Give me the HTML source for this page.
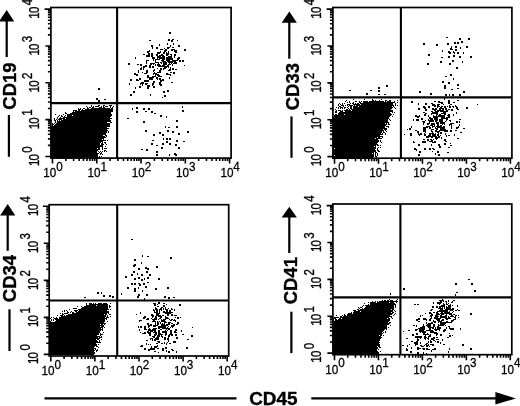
<!DOCTYPE html>
<html><head><meta charset="utf-8"><style>
html,body{margin:0;padding:0;background:#fff;width:520px;height:406px;overflow:hidden;}
svg{display:block;filter:grayscale(1) blur(0.35px);}
text{font-family:"Liberation Sans", sans-serif;fill:#000;stroke:#000;stroke-width:0.28px;}text[font-weight=bold]{stroke-width:0.35px;}
</style></head><body><svg width="520" height="406" viewBox="0 0 520 406" font-family='"Liberation Sans", sans-serif'><rect x="50.90" y="7.50" width="180.20" height="150.60" fill="none" stroke="#000" stroke-width="1.7"/><line x1="117.10" y1="7.50" x2="117.10" y2="158.10" stroke="#000" stroke-width="2.1"/><line x1="50.90" y1="103.10" x2="231.10" y2="103.10" stroke="#000" stroke-width="2.1"/><path d="M52.50 158.10V163.60M50.90 156.50H45.40M65.83 158.10V161.10M50.90 145.41H47.90M73.62 158.10V161.10M50.90 138.92H47.90M79.16 158.10V161.10M50.90 134.31H47.90M83.45 158.10V161.10M50.90 130.74H47.90M86.95 158.10V161.10M50.90 127.83H47.90M89.92 158.10V161.10M50.90 125.36H47.90M92.48 158.10V161.10M50.90 123.22H47.90M94.75 158.10V161.10M50.90 121.34H47.90M96.78 158.10V163.60M50.90 119.65H45.40M110.10 158.10V161.10M50.90 108.56H47.90M117.90 158.10V161.10M50.90 102.07H47.90M123.43 158.10V161.10M50.90 97.46H47.90M127.72 158.10V161.10M50.90 93.89H47.90M131.23 158.10V161.10M50.90 90.98H47.90M134.19 158.10V161.10M50.90 88.51H47.90M136.76 158.10V161.10M50.90 86.37H47.90M139.02 158.10V161.10M50.90 84.49H47.90M141.05 158.10V163.60M50.90 82.80H45.40M154.38 158.10V161.10M50.90 71.71H47.90M162.17 158.10V161.10M50.90 65.22H47.90M167.71 158.10V161.10M50.90 60.61H47.90M172.00 158.10V161.10M50.90 57.04H47.90M175.50 158.10V161.10M50.90 54.13H47.90M178.47 158.10V161.10M50.90 51.66H47.90M181.03 158.10V161.10M50.90 49.52H47.90M183.30 158.10V161.10M50.90 47.64H47.90M185.32 158.10V163.60M50.90 45.95H45.40M198.65 158.10V161.10M50.90 34.86H47.90M206.45 158.10V161.10M50.90 28.37H47.90M211.98 158.10V161.10M50.90 23.76H47.90M216.27 158.10V161.10M50.90 20.19H47.90M219.78 158.10V161.10M50.90 17.28H47.90M222.74 158.10V161.10M50.90 14.81H47.90M225.31 158.10V161.10M50.90 12.67H47.90M227.57 158.10V161.10M50.90 10.79H47.90M229.60 158.10V163.60M50.90 9.10H44.60" stroke="#000" stroke-width="1.6" fill="none"/><g transform="translate(52.50,177.00) scale(0.96,1)"><text x="-9.6" y="0" font-size="12.2">10</text><text x="3.9" y="-6.4" font-size="12.2">0</text></g><g transform="translate(39.30,156.50) rotate(-90) scale(1,1.2)"><text x="-9.6" y="0" font-size="11.5" letter-spacing="-0.8">10</text><text x="3.8" y="-6.3" font-size="11.5">0</text></g><g transform="translate(96.78,177.00) scale(0.96,1)"><text x="-9.6" y="0" font-size="12.2">10</text><text x="3.9" y="-6.4" font-size="12.2">1</text></g><g transform="translate(39.30,119.65) rotate(-90) scale(1,1.2)"><text x="-9.6" y="0" font-size="11.5" letter-spacing="-0.8">10</text><text x="3.8" y="-6.3" font-size="11.5">1</text></g><g transform="translate(141.05,177.00) scale(0.96,1)"><text x="-9.6" y="0" font-size="12.2">10</text><text x="3.9" y="-6.4" font-size="12.2">2</text></g><g transform="translate(39.30,82.80) rotate(-90) scale(1,1.2)"><text x="-9.6" y="0" font-size="11.5" letter-spacing="-0.8">10</text><text x="3.8" y="-6.3" font-size="11.5">2</text></g><g transform="translate(185.32,177.00) scale(0.96,1)"><text x="-9.6" y="0" font-size="12.2">10</text><text x="3.9" y="-6.4" font-size="12.2">3</text></g><g transform="translate(39.30,45.95) rotate(-90) scale(1,1.2)"><text x="-9.6" y="0" font-size="11.5" letter-spacing="-0.8">10</text><text x="3.8" y="-6.3" font-size="11.5">3</text></g><g transform="translate(229.60,177.00) scale(0.96,1)"><text x="-9.6" y="0" font-size="12.2">10</text><text x="3.9" y="-6.4" font-size="12.2">4</text></g><g transform="translate(39.30,9.10) rotate(-90) scale(1,1.2)"><text x="-9.6" y="0" font-size="11.5" letter-spacing="-0.8">10</text><text x="3.8" y="-6.3" font-size="11.5">4</text></g><path d="M6.70 10.00L14.30 21.40L-0.90 21.40Z" fill="#000"/><line x1="6.70" y1="20.40" x2="6.70" y2="57.00" stroke="#000" stroke-width="2.2"/><line x1="8.90" y1="115.00" x2="8.90" y2="156.80" stroke="#000" stroke-width="2.2"/><text transform="translate(16.00,86.00) rotate(-90)" text-anchor="middle" font-size="18.5" font-weight="bold">CD19</text><rect x="332.90" y="7.50" width="179.00" height="150.70" fill="none" stroke="#000" stroke-width="1.7"/><line x1="400.90" y1="7.50" x2="400.90" y2="158.20" stroke="#000" stroke-width="2.1"/><line x1="332.90" y1="97.40" x2="511.90" y2="97.40" stroke="#000" stroke-width="2.1"/><path d="M334.50 158.20V163.70M332.90 156.60H327.40M347.74 158.20V161.20M332.90 145.50H329.90M355.48 158.20V161.20M332.90 139.01H329.90M360.98 158.20V161.20M332.90 134.40H329.90M365.24 158.20V161.20M332.90 130.83H329.90M368.72 158.20V161.20M332.90 127.91H329.90M371.66 158.20V161.20M332.90 125.44H329.90M374.21 158.20V161.20M332.90 123.30H329.90M376.46 158.20V161.20M332.90 121.41H329.90M378.48 158.20V163.70M332.90 119.72H327.40M391.71 158.20V161.20M332.90 108.62H329.90M399.46 158.20V161.20M332.90 102.13H329.90M404.95 158.20V161.20M332.90 97.52H329.90M409.21 158.20V161.20M332.90 93.95H329.90M412.69 158.20V161.20M332.90 91.03H329.90M415.64 158.20V161.20M332.90 88.56H329.90M418.19 158.20V161.20M332.90 86.42H329.90M420.44 158.20V161.20M332.90 84.54H329.90M422.45 158.20V163.70M332.90 82.85H327.40M435.69 158.20V161.20M332.90 71.75H329.90M443.43 158.20V161.20M332.90 65.26H329.90M448.93 158.20V161.20M332.90 60.65H329.90M453.19 158.20V161.20M332.90 57.08H329.90M456.67 158.20V161.20M332.90 54.16H329.90M459.61 158.20V161.20M332.90 51.69H329.90M462.16 158.20V161.20M332.90 49.55H329.90M464.41 158.20V161.20M332.90 47.66H329.90M466.42 158.20V163.70M332.90 45.97H327.40M479.66 158.20V161.20M332.90 34.87H329.90M487.41 158.20V161.20M332.90 28.38H329.90M492.90 158.20V161.20M332.90 23.77H329.90M497.16 158.20V161.20M332.90 20.20H329.90M500.64 158.20V161.20M332.90 17.28H329.90M503.59 158.20V161.20M332.90 14.81H329.90M506.14 158.20V161.20M332.90 12.67H329.90M508.39 158.20V161.20M332.90 10.79H329.90M510.40 158.20V163.70M332.90 9.10H326.60" stroke="#000" stroke-width="1.6" fill="none"/><g transform="translate(334.50,177.10) scale(0.96,1)"><text x="-9.6" y="0" font-size="12.2">10</text><text x="3.9" y="-6.4" font-size="12.2">0</text></g><g transform="translate(321.30,156.60) rotate(-90) scale(1,1.2)"><text x="-9.6" y="0" font-size="11.5" letter-spacing="-0.8">10</text><text x="3.8" y="-6.3" font-size="11.5">0</text></g><g transform="translate(378.48,177.10) scale(0.96,1)"><text x="-9.6" y="0" font-size="12.2">10</text><text x="3.9" y="-6.4" font-size="12.2">1</text></g><g transform="translate(321.30,119.72) rotate(-90) scale(1,1.2)"><text x="-9.6" y="0" font-size="11.5" letter-spacing="-0.8">10</text><text x="3.8" y="-6.3" font-size="11.5">1</text></g><g transform="translate(422.45,177.10) scale(0.96,1)"><text x="-9.6" y="0" font-size="12.2">10</text><text x="3.9" y="-6.4" font-size="12.2">2</text></g><g transform="translate(321.30,82.85) rotate(-90) scale(1,1.2)"><text x="-9.6" y="0" font-size="11.5" letter-spacing="-0.8">10</text><text x="3.8" y="-6.3" font-size="11.5">2</text></g><g transform="translate(466.42,177.10) scale(0.96,1)"><text x="-9.6" y="0" font-size="12.2">10</text><text x="3.9" y="-6.4" font-size="12.2">3</text></g><g transform="translate(321.30,45.97) rotate(-90) scale(1,1.2)"><text x="-9.6" y="0" font-size="11.5" letter-spacing="-0.8">10</text><text x="3.8" y="-6.3" font-size="11.5">3</text></g><g transform="translate(510.40,177.10) scale(0.96,1)"><text x="-9.6" y="0" font-size="12.2">10</text><text x="3.9" y="-6.4" font-size="12.2">4</text></g><g transform="translate(321.30,9.10) rotate(-90) scale(1,1.2)"><text x="-9.6" y="0" font-size="11.5" letter-spacing="-0.8">10</text><text x="3.8" y="-6.3" font-size="11.5">4</text></g><path d="M289.30 11.50L296.90 22.80L281.70 22.80Z" fill="#000"/><line x1="289.30" y1="21.80" x2="289.30" y2="58.70" stroke="#000" stroke-width="2.2"/><line x1="291.50" y1="116.40" x2="291.50" y2="157.80" stroke="#000" stroke-width="2.2"/><text transform="translate(298.50,86.60) rotate(-90)" text-anchor="middle" font-size="18.5" font-weight="bold">CD33</text><rect x="49.20" y="204.70" width="179.50" height="151.30" fill="none" stroke="#000" stroke-width="1.7"/><line x1="117.20" y1="204.70" x2="117.20" y2="356.00" stroke="#000" stroke-width="2.1"/><line x1="49.20" y1="300.50" x2="228.70" y2="300.50" stroke="#000" stroke-width="2.1"/><path d="M50.80 356.00V361.50M49.20 354.40H43.70M64.08 356.00V359.00M49.20 343.25H46.20M71.84 356.00V359.00M49.20 336.73H46.20M77.35 356.00V359.00M49.20 332.11H46.20M81.62 356.00V359.00M49.20 328.52H46.20M85.12 356.00V359.00M49.20 325.59H46.20M88.07 356.00V359.00M49.20 323.11H46.20M90.63 356.00V359.00M49.20 320.96H46.20M92.88 356.00V359.00M49.20 319.07H46.20M94.90 356.00V361.50M49.20 317.38H43.70M108.18 356.00V359.00M49.20 306.23H46.20M115.94 356.00V359.00M49.20 299.71H46.20M121.45 356.00V359.00M49.20 295.08H46.20M125.72 356.00V359.00M49.20 291.50H46.20M129.22 356.00V359.00M49.20 288.56H46.20M132.17 356.00V359.00M49.20 286.09H46.20M134.73 356.00V359.00M49.20 283.94H46.20M136.98 356.00V359.00M49.20 282.04H46.20M139.00 356.00V361.50M49.20 280.35H43.70M152.28 356.00V359.00M49.20 269.20H46.20M160.04 356.00V359.00M49.20 262.68H46.20M165.55 356.00V359.00M49.20 258.06H46.20M169.82 356.00V359.00M49.20 254.47H46.20M173.32 356.00V359.00M49.20 251.54H46.20M176.27 356.00V359.00M49.20 249.06H46.20M178.83 356.00V359.00M49.20 246.91H46.20M181.08 356.00V359.00M49.20 245.02H46.20M183.10 356.00V361.50M49.20 243.32H43.70M196.38 356.00V359.00M49.20 232.18H46.20M204.14 356.00V359.00M49.20 225.66H46.20M209.65 356.00V359.00M49.20 221.03H46.20M213.92 356.00V359.00M49.20 217.45H46.20M217.42 356.00V359.00M49.20 214.51H46.20M220.37 356.00V359.00M49.20 212.04H46.20M222.93 356.00V359.00M49.20 209.89H46.20M225.18 356.00V359.00M49.20 207.99H46.20M227.20 356.00V361.50M49.20 206.30H42.90" stroke="#000" stroke-width="1.6" fill="none"/><g transform="translate(50.80,374.90) scale(0.96,1)"><text x="-9.6" y="0" font-size="12.2">10</text><text x="3.9" y="-6.4" font-size="12.2">0</text></g><g transform="translate(37.60,354.40) rotate(-90) scale(1,1.2)"><text x="-9.6" y="0" font-size="11.5" letter-spacing="-0.8">10</text><text x="3.8" y="-6.3" font-size="11.5">0</text></g><g transform="translate(94.90,374.90) scale(0.96,1)"><text x="-9.6" y="0" font-size="12.2">10</text><text x="3.9" y="-6.4" font-size="12.2">1</text></g><g transform="translate(37.60,317.38) rotate(-90) scale(1,1.2)"><text x="-9.6" y="0" font-size="11.5" letter-spacing="-0.8">10</text><text x="3.8" y="-6.3" font-size="11.5">1</text></g><g transform="translate(139.00,374.90) scale(0.96,1)"><text x="-9.6" y="0" font-size="12.2">10</text><text x="3.9" y="-6.4" font-size="12.2">2</text></g><g transform="translate(37.60,280.35) rotate(-90) scale(1,1.2)"><text x="-9.6" y="0" font-size="11.5" letter-spacing="-0.8">10</text><text x="3.8" y="-6.3" font-size="11.5">2</text></g><g transform="translate(183.10,374.90) scale(0.96,1)"><text x="-9.6" y="0" font-size="12.2">10</text><text x="3.9" y="-6.4" font-size="12.2">3</text></g><g transform="translate(37.60,243.32) rotate(-90) scale(1,1.2)"><text x="-9.6" y="0" font-size="11.5" letter-spacing="-0.8">10</text><text x="3.8" y="-6.3" font-size="11.5">3</text></g><g transform="translate(227.20,374.90) scale(0.96,1)"><text x="-9.6" y="0" font-size="12.2">10</text><text x="3.9" y="-6.4" font-size="12.2">4</text></g><g transform="translate(37.60,206.30) rotate(-90) scale(1,1.2)"><text x="-9.6" y="0" font-size="11.5" letter-spacing="-0.8">10</text><text x="3.8" y="-6.3" font-size="11.5">4</text></g><path d="M7.70 204.10L15.30 215.60L0.10 215.60Z" fill="#000"/><line x1="7.70" y1="214.60" x2="7.70" y2="250.80" stroke="#000" stroke-width="2.2"/><line x1="9.50" y1="309.30" x2="9.50" y2="351.00" stroke="#000" stroke-width="2.2"/><text transform="translate(15.50,278.50) rotate(-90)" text-anchor="middle" font-size="18.5" font-weight="bold">CD34</text><rect x="332.90" y="204.00" width="178.90" height="150.70" fill="none" stroke="#000" stroke-width="1.7"/><line x1="400.40" y1="204.00" x2="400.40" y2="354.70" stroke="#000" stroke-width="2.1"/><line x1="332.90" y1="297.40" x2="511.80" y2="297.40" stroke="#000" stroke-width="2.1"/><path d="M334.50 354.70V360.20M332.90 353.10H327.40M347.73 354.70V357.70M332.90 342.00H329.90M355.47 354.70V357.70M332.90 335.51H329.90M360.96 354.70V357.70M332.90 330.90H329.90M365.22 354.70V357.70M332.90 327.33H329.90M368.70 354.70V357.70M332.90 324.41H329.90M371.64 354.70V357.70M332.90 321.94H329.90M374.19 354.70V357.70M332.90 319.80H329.90M376.44 354.70V357.70M332.90 317.91H329.90M378.45 354.70V360.20M332.90 316.22H327.40M391.68 354.70V357.70M332.90 305.12H329.90M399.42 354.70V357.70M332.90 298.63H329.90M404.91 354.70V357.70M332.90 294.02H329.90M409.17 354.70V357.70M332.90 290.45H329.90M412.65 354.70V357.70M332.90 287.53H329.90M415.59 354.70V357.70M332.90 285.06H329.90M418.14 354.70V357.70M332.90 282.92H329.90M420.39 354.70V357.70M332.90 281.04H329.90M422.40 354.70V360.20M332.90 279.35H327.40M435.63 354.70V357.70M332.90 268.25H329.90M443.37 354.70V357.70M332.90 261.76H329.90M448.86 354.70V357.70M332.90 257.15H329.90M453.12 354.70V357.70M332.90 253.58H329.90M456.60 354.70V357.70M332.90 250.66H329.90M459.54 354.70V357.70M332.90 248.19H329.90M462.09 354.70V357.70M332.90 246.05H329.90M464.34 354.70V357.70M332.90 244.16H329.90M466.35 354.70V360.20M332.90 242.47H327.40M479.58 354.70V357.70M332.90 231.37H329.90M487.32 354.70V357.70M332.90 224.88H329.90M492.81 354.70V357.70M332.90 220.27H329.90M497.07 354.70V357.70M332.90 216.70H329.90M500.55 354.70V357.70M332.90 213.78H329.90M503.49 354.70V357.70M332.90 211.31H329.90M506.04 354.70V357.70M332.90 209.17H329.90M508.29 354.70V357.70M332.90 207.29H329.90M510.30 354.70V360.20M332.90 205.60H326.60" stroke="#000" stroke-width="1.6" fill="none"/><g transform="translate(334.50,373.60) scale(0.96,1)"><text x="-9.6" y="0" font-size="12.2">10</text><text x="3.9" y="-6.4" font-size="12.2">0</text></g><g transform="translate(321.30,353.10) rotate(-90) scale(1,1.2)"><text x="-9.6" y="0" font-size="11.5" letter-spacing="-0.8">10</text><text x="3.8" y="-6.3" font-size="11.5">0</text></g><g transform="translate(378.45,373.60) scale(0.96,1)"><text x="-9.6" y="0" font-size="12.2">10</text><text x="3.9" y="-6.4" font-size="12.2">1</text></g><g transform="translate(321.30,316.22) rotate(-90) scale(1,1.2)"><text x="-9.6" y="0" font-size="11.5" letter-spacing="-0.8">10</text><text x="3.8" y="-6.3" font-size="11.5">1</text></g><g transform="translate(422.40,373.60) scale(0.96,1)"><text x="-9.6" y="0" font-size="12.2">10</text><text x="3.9" y="-6.4" font-size="12.2">2</text></g><g transform="translate(321.30,279.35) rotate(-90) scale(1,1.2)"><text x="-9.6" y="0" font-size="11.5" letter-spacing="-0.8">10</text><text x="3.8" y="-6.3" font-size="11.5">2</text></g><g transform="translate(466.35,373.60) scale(0.96,1)"><text x="-9.6" y="0" font-size="12.2">10</text><text x="3.9" y="-6.4" font-size="12.2">3</text></g><g transform="translate(321.30,242.47) rotate(-90) scale(1,1.2)"><text x="-9.6" y="0" font-size="11.5" letter-spacing="-0.8">10</text><text x="3.8" y="-6.3" font-size="11.5">3</text></g><g transform="translate(510.30,373.60) scale(0.96,1)"><text x="-9.6" y="0" font-size="12.2">10</text><text x="3.9" y="-6.4" font-size="12.2">4</text></g><g transform="translate(321.30,205.60) rotate(-90) scale(1,1.2)"><text x="-9.6" y="0" font-size="11.5" letter-spacing="-0.8">10</text><text x="3.8" y="-6.3" font-size="11.5">4</text></g><path d="M289.30 206.70L296.90 217.40L281.70 217.40Z" fill="#000"/><line x1="289.30" y1="216.40" x2="289.30" y2="253.00" stroke="#000" stroke-width="2.2"/><line x1="291.40" y1="311.70" x2="291.40" y2="353.10" stroke="#000" stroke-width="2.2"/><text transform="translate(297.40,280.60) rotate(-90)" text-anchor="middle" font-size="18.5" font-weight="bold">CD41</text><path d="M169 32h2v1h-2zM169 33h2v1h-2zM446 37h2v1h-2zM459 38h2v1h-2zM468 38h2v1h-2zM168 39h2v1h-2zM172 39h2v1h-2zM459 39h2v1h-2zM468 39h2v1h-2zM149 40h2v1h-2zM168 40h2v1h-2zM171 40h2v1h-2zM177 40h1v1h-1zM171 41h2v1h-2zM461 41h2v1h-2zM454 42h2v1h-2zM457 42h2v1h-2zM461 42h2v1h-2zM167 43h1v1h-1zM173 43h1v1h-1zM423 43h2v1h-2zM447 43h2v1h-2zM454 43h2v1h-2zM457 43h2v1h-2zM159 44h1v1h-1zM167 44h1v1h-1zM173 44h1v1h-1zM423 44h2v1h-2zM436 44h2v1h-2zM447 44h2v1h-2zM151 45h2v1h-2zM159 45h1v1h-1zM170 45h1v1h-1zM178 45h2v1h-2zM436 45h2v1h-2zM151 46h2v1h-2zM170 46h1v1h-1zM178 46h2v1h-2zM451 46h1v1h-1zM455 46h2v1h-2zM466 46h2v1h-2zM152 47h1v1h-1zM156 47h2v1h-2zM167 47h3v1h-3zM172 47h2v1h-2zM451 47h1v1h-1zM455 47h2v1h-2zM460 47h1v1h-1zM466 47h2v1h-2zM152 48h1v1h-1zM156 48h2v1h-2zM164 48h1v1h-1zM167 48h2v1h-2zM450 48h2v1h-2zM460 48h1v1h-1zM160 49h3v1h-3zM165 49h2v1h-2zM171 49h4v1h-4zM184 49h2v1h-2zM450 49h3v1h-3zM455 49h2v1h-2zM149 50h1v1h-1zM164 50h3v1h-3zM171 50h2v1h-2zM174 50h3v1h-3zM184 50h2v1h-2zM442 50h1v1h-1zM455 50h2v1h-2zM147 51h3v1h-3zM160 51h1v1h-1zM164 51h2v1h-2zM168 51h1v1h-1zM174 51h3v1h-3zM442 51h1v1h-1zM448 51h2v1h-2zM453 51h1v1h-1zM147 52h2v1h-2zM157 52h4v1h-4zM163 52h2v1h-2zM166 52h1v1h-1zM168 52h1v1h-1zM175 52h2v1h-2zM448 52h3v1h-3zM453 52h2v1h-2zM457 52h2v1h-2zM463 52h1v1h-1zM148 53h2v1h-2zM151 53h2v1h-2zM157 53h3v1h-3zM163 53h2v1h-2zM166 53h3v1h-3zM449 53h2v1h-2zM454 53h1v1h-1zM457 53h2v1h-2zM463 53h1v1h-1zM143 54h2v1h-2zM148 54h2v1h-2zM151 54h2v1h-2zM156 54h2v1h-2zM161 54h2v1h-2zM166 54h3v1h-3zM170 54h2v1h-2zM174 54h2v1h-2zM428 54h2v1h-2zM146 55h4v1h-4zM151 55h2v1h-2zM156 55h2v1h-2zM159 55h5v1h-5zM166 55h2v1h-2zM171 55h1v1h-1zM174 55h2v1h-2zM428 55h2v1h-2zM453 55h2v1h-2zM146 56h4v1h-4zM151 56h2v1h-2zM157 56h4v1h-4zM162 56h3v1h-3zM168 56h4v1h-4zM174 56h1v1h-1zM448 56h2v1h-2zM453 56h2v1h-2zM459 56h2v1h-2zM470 56h2v1h-2zM135 57h1v1h-1zM152 57h3v1h-3zM157 57h8v1h-8zM166 57h6v1h-6zM174 57h1v1h-1zM178 57h2v1h-2zM441 57h2v1h-2zM448 57h2v1h-2zM459 57h2v1h-2zM470 57h2v1h-2zM135 58h1v1h-1zM152 58h3v1h-3zM157 58h1v1h-1zM159 58h6v1h-6zM166 58h7v1h-7zM177 58h3v1h-3zM153 59h1v1h-1zM155 59h5v1h-5zM162 59h3v1h-3zM166 59h7v1h-7zM177 59h2v1h-2zM146 60h3v1h-3zM153 60h1v1h-1zM155 60h1v1h-1zM161 60h3v1h-3zM166 60h4v1h-4zM172 60h6v1h-6zM179 60h2v1h-2zM182 60h2v1h-2zM452 60h2v1h-2zM146 61h1v1h-1zM155 61h1v1h-1zM162 61h4v1h-4zM167 61h9v1h-9zM179 61h2v1h-2zM182 61h2v1h-2zM440 61h2v1h-2zM452 61h2v1h-2zM462 61h1v1h-1zM146 62h1v1h-1zM155 62h4v1h-4zM160 62h2v1h-2zM163 62h4v1h-4zM168 62h5v1h-5zM174 62h3v1h-3zM440 62h2v1h-2zM462 62h1v1h-1zM128 63h2v1h-2zM146 63h1v1h-1zM150 63h5v1h-5zM158 63h1v1h-1zM161 63h1v1h-1zM163 63h4v1h-4zM169 63h1v1h-1zM171 63h1v1h-1zM173 63h4v1h-4zM427 63h2v1h-2zM449 63h2v1h-2zM128 64h2v1h-2zM137 64h2v1h-2zM140 64h2v1h-2zM150 64h2v1h-2zM153 64h1v1h-1zM155 64h1v1h-1zM157 64h3v1h-3zM163 64h4v1h-4zM168 64h3v1h-3zM172 64h1v1h-1zM427 64h2v1h-2zM449 64h2v1h-2zM140 65h2v1h-2zM145 65h2v1h-2zM149 65h2v1h-2zM155 65h1v1h-1zM157 65h4v1h-4zM162 65h3v1h-3zM167 65h2v1h-2zM172 65h1v1h-1zM184 65h1v1h-1zM143 66h4v1h-4zM149 66h2v1h-2zM152 66h2v1h-2zM158 66h11v1h-11zM141 67h1v1h-1zM143 67h2v1h-2zM149 67h2v1h-2zM152 67h2v1h-2zM164 67h3v1h-3zM168 67h1v1h-1zM170 67h1v1h-1zM456 67h2v1h-2zM140 68h2v1h-2zM143 68h1v1h-1zM157 68h1v1h-1zM160 68h2v1h-2zM163 68h3v1h-3zM170 68h1v1h-1zM172 68h2v1h-2zM456 68h2v1h-2zM140 69h2v1h-2zM143 69h1v1h-1zM154 69h1v1h-1zM160 69h2v1h-2zM163 69h1v1h-1zM169 69h2v1h-2zM172 69h2v1h-2zM175 69h2v1h-2zM138 70h1v1h-1zM146 70h2v1h-2zM153 70h2v1h-2zM159 70h2v1h-2zM168 70h3v1h-3zM138 71h1v1h-1zM146 71h2v1h-2zM153 71h1v1h-1zM159 71h2v1h-2zM138 72h1v1h-1zM142 72h1v1h-1zM146 72h2v1h-2zM154 72h1v1h-1zM157 72h4v1h-4zM170 72h2v1h-2zM173 72h2v1h-2zM134 73h2v1h-2zM144 73h3v1h-3zM153 73h4v1h-4zM166 73h2v1h-2zM173 73h2v1h-2zM134 74h4v1h-4zM153 74h1v1h-1zM155 74h4v1h-4zM166 74h5v1h-5zM450 74h2v1h-2zM136 75h2v1h-2zM147 75h2v1h-2zM155 75h1v1h-1zM157 75h3v1h-3zM170 75h1v1h-1zM450 75h2v1h-2zM147 76h2v1h-2zM152 76h4v1h-4zM158 76h4v1h-4zM445 76h2v1h-2zM147 77h7v1h-7zM156 77h2v1h-2zM169 77h1v1h-1zM139 78h2v1h-2zM149 78h4v1h-4zM156 78h2v1h-2zM159 78h2v1h-2zM169 78h1v1h-1zM453 78h1v1h-1zM130 79h2v1h-2zM136 79h2v1h-2zM139 79h2v1h-2zM149 79h4v1h-4zM157 79h1v1h-1zM159 79h2v1h-2zM162 79h2v1h-2zM453 79h1v1h-1zM130 80h2v1h-2zM136 80h3v1h-3zM144 80h5v1h-5zM160 80h4v1h-4zM144 81h5v1h-5zM153 81h2v1h-2zM160 81h2v1h-2zM442 81h2v1h-2zM141 82h3v1h-3zM153 82h2v1h-2zM159 82h2v1h-2zM171 82h2v1h-2zM442 82h2v1h-2zM448 82h2v1h-2zM129 83h1v1h-1zM140 83h4v1h-4zM145 83h3v1h-3zM152 83h2v1h-2zM159 83h2v1h-2zM448 83h2v1h-2zM129 84h1v1h-1zM140 84h1v1h-1zM142 84h1v1h-1zM145 84h2v1h-2zM152 84h2v1h-2zM159 84h3v1h-3zM457 84h2v1h-2zM142 85h1v1h-1zM147 85h3v1h-3zM152 85h1v1h-1zM160 85h2v1h-2zM386 85h2v1h-2zM444 85h2v1h-2zM457 85h2v1h-2zM139 86h2v1h-2zM147 86h3v1h-3zM153 86h2v1h-2zM386 86h2v1h-2zM444 86h2v1h-2zM135 87h1v1h-1zM139 87h2v1h-2zM147 87h2v1h-2zM153 87h2v1h-2zM378 87h2v1h-2zM444 87h2v1h-2zM98 88h2v1h-2zM135 88h1v1h-1zM147 88h2v1h-2zM378 88h2v1h-2zM444 88h2v1h-2zM457 88h2v1h-2zM98 89h2v1h-2zM451 89h2v1h-2zM167 90h2v1h-2zM349 90h2v1h-2zM370 90h2v1h-2zM378 90h2v1h-2zM133 91h2v1h-2zM163 91h2v1h-2zM167 91h2v1h-2zM378 91h2v1h-2zM419 91h2v1h-2zM463 91h2v1h-2zM133 92h2v1h-2zM163 92h2v1h-2zM419 92h2v1h-2zM463 92h2v1h-2zM366 93h2v1h-2zM430 93h2v1h-2zM130 94h2v1h-2zM150 94h1v1h-1zM366 94h2v1h-2zM378 94h2v1h-2zM384 94h2v1h-2zM430 94h2v1h-2zM445 94h2v1h-2zM449 94h1v1h-1zM452 94h2v1h-2zM459 94h2v1h-2zM130 95h2v1h-2zM150 95h1v1h-1zM164 95h2v1h-2zM445 95h2v1h-2zM449 95h1v1h-1zM452 95h2v1h-2zM459 95h2v1h-2zM164 96h2v1h-2zM162 97h1v1h-1zM96 98h2v1h-2zM444 98h1v1h-1zM96 99h2v1h-2zM104 99h2v1h-2zM353 99h1v1h-1zM364 99h1v1h-1zM372 99h1v1h-1zM381 99h1v1h-1zM444 99h1v1h-1zM98 100h2v1h-2zM346 100h1v1h-1zM372 100h2v1h-2zM375 100h1v1h-1zM379 100h1v1h-1zM385 100h2v1h-2zM389 100h2v1h-2zM397 100h1v1h-1zM448 100h2v1h-2zM457 100h2v1h-2zM98 101h2v1h-2zM345 101h1v1h-1zM349 101h1v1h-1zM355 101h2v1h-2zM359 101h1v1h-1zM361 101h1v1h-1zM363 101h5v1h-5zM369 101h15v1h-15zM385 101h1v1h-1zM387 101h4v1h-4zM394 101h1v1h-1zM411 101h2v1h-2zM434 101h2v1h-2zM438 101h2v1h-2zM448 101h2v1h-2zM347 102h1v1h-1zM349 102h1v1h-1zM353 102h1v1h-1zM359 102h2v1h-2zM363 102h32v1h-32zM397 102h1v1h-1zM411 102h2v1h-2zM438 102h5v1h-5zM448 102h2v1h-2zM453 102h2v1h-2zM339 103h1v1h-1zM342 103h1v1h-1zM344 103h1v1h-1zM350 103h1v1h-1zM352 103h2v1h-2zM355 103h1v1h-1zM357 103h2v1h-2zM360 103h33v1h-33zM395 103h1v1h-1zM418 103h1v1h-1zM425 103h2v1h-2zM431 103h2v1h-2zM441 103h2v1h-2zM448 103h2v1h-2zM338 104h1v1h-1zM340 104h1v1h-1zM342 104h1v1h-1zM347 104h3v1h-3zM353 104h7v1h-7zM361 104h32v1h-32zM395 104h1v1h-1zM418 104h1v1h-1zM425 104h2v1h-2zM432 104h3v1h-3zM437 104h3v1h-3zM443 104h1v1h-1zM450 104h2v1h-2zM477 104h1v1h-1zM91 105h1v1h-1zM98 105h2v1h-2zM103 105h2v1h-2zM109 105h3v1h-3zM338 105h1v1h-1zM341 105h3v1h-3zM345 105h1v1h-1zM347 105h1v1h-1zM349 105h4v1h-4zM354 105h1v1h-1zM356 105h38v1h-38zM395 105h1v1h-1zM397 105h1v1h-1zM432 105h4v1h-4zM437 105h2v1h-2zM449 105h1v1h-1zM455 105h1v1h-1zM86 106h1v1h-1zM91 106h1v1h-1zM93 106h1v1h-1zM95 106h4v1h-4zM101 106h1v1h-1zM103 106h1v1h-1zM105 106h3v1h-3zM110 106h1v1h-1zM113 106h1v1h-1zM182 106h1v1h-1zM339 106h2v1h-2zM343 106h1v1h-1zM348 106h1v1h-1zM350 106h2v1h-2zM353 106h5v1h-5zM359 106h33v1h-33zM393 106h1v1h-1zM423 106h2v1h-2zM428 106h2v1h-2zM434 106h2v1h-2zM437 106h3v1h-3zM441 106h2v1h-2zM444 106h2v1h-2zM447 106h1v1h-1zM449 106h2v1h-2zM452 106h2v1h-2zM455 106h2v1h-2zM87 107h1v1h-1zM89 107h2v1h-2zM92 107h2v1h-2zM99 107h3v1h-3zM103 107h2v1h-2zM110 107h1v1h-1zM112 107h1v1h-1zM136 107h2v1h-2zM182 107h1v1h-1zM336 107h1v1h-1zM338 107h1v1h-1zM340 107h3v1h-3zM344 107h2v1h-2zM347 107h1v1h-1zM350 107h2v1h-2zM353 107h40v1h-40zM394 107h1v1h-1zM423 107h3v1h-3zM428 107h2v1h-2zM437 107h1v1h-1zM440 107h2v1h-2zM444 107h2v1h-2zM449 107h2v1h-2zM453 107h1v1h-1zM456 107h2v1h-2zM466 107h2v1h-2zM78 108h1v1h-1zM80 108h1v1h-1zM83 108h2v1h-2zM87 108h2v1h-2zM91 108h19v1h-19zM111 108h2v1h-2zM132 108h1v1h-1zM136 108h2v1h-2zM143 108h2v1h-2zM148 108h2v1h-2zM338 108h1v1h-1zM340 108h1v1h-1zM342 108h1v1h-1zM344 108h1v1h-1zM348 108h1v1h-1zM350 108h2v1h-2zM353 108h39v1h-39zM395 108h1v1h-1zM418 108h2v1h-2zM424 108h2v1h-2zM432 108h2v1h-2zM435 108h2v1h-2zM439 108h5v1h-5zM445 108h2v1h-2zM456 108h2v1h-2zM466 108h2v1h-2zM78 109h3v1h-3zM82 109h1v1h-1zM85 109h28v1h-28zM132 109h1v1h-1zM143 109h2v1h-2zM148 109h2v1h-2zM333 109h1v1h-1zM335 109h1v1h-1zM346 109h2v1h-2zM349 109h1v1h-1zM351 109h40v1h-40zM418 109h2v1h-2zM425 109h2v1h-2zM432 109h5v1h-5zM439 109h2v1h-2zM442 109h2v1h-2zM445 109h2v1h-2zM448 109h2v1h-2zM451 109h2v1h-2zM457 109h2v1h-2zM73 110h4v1h-4zM78 110h2v1h-2zM81 110h32v1h-32zM182 110h2v1h-2zM336 110h1v1h-1zM338 110h3v1h-3zM342 110h1v1h-1zM344 110h7v1h-7zM352 110h41v1h-41zM425 110h2v1h-2zM434 110h2v1h-2zM437 110h7v1h-7zM446 110h2v1h-2zM451 110h2v1h-2zM73 111h1v1h-1zM75 111h38v1h-38zM136 111h2v1h-2zM145 111h2v1h-2zM151 111h2v1h-2zM182 111h2v1h-2zM335 111h2v1h-2zM340 111h3v1h-3zM345 111h48v1h-48zM431 111h2v1h-2zM435 111h4v1h-4zM440 111h8v1h-8zM65 112h1v1h-1zM72 112h39v1h-39zM136 112h2v1h-2zM151 112h2v1h-2zM335 112h2v1h-2zM339 112h51v1h-51zM392 112h1v1h-1zM394 112h1v1h-1zM423 112h2v1h-2zM432 112h6v1h-6zM443 112h3v1h-3zM456 112h1v1h-1zM65 113h2v1h-2zM70 113h41v1h-41zM154 113h2v1h-2zM338 113h53v1h-53zM425 113h2v1h-2zM431 113h7v1h-7zM441 113h5v1h-5zM456 113h1v1h-1zM55 114h1v1h-1zM63 114h1v1h-1zM67 114h45v1h-45zM333 114h1v1h-1zM335 114h2v1h-2zM338 114h6v1h-6zM345 114h47v1h-47zM393 114h1v1h-1zM424 114h2v1h-2zM431 114h1v1h-1zM436 114h2v1h-2zM439 114h2v1h-2zM444 114h2v1h-2zM448 114h2v1h-2zM453 114h1v1h-1zM59 115h1v1h-1zM61 115h1v1h-1zM65 115h1v1h-1zM67 115h5v1h-5zM73 115h39v1h-39zM160 115h2v1h-2zM334 115h57v1h-57zM415 115h2v1h-2zM419 115h1v1h-1zM424 115h2v1h-2zM428 115h1v1h-1zM433 115h1v1h-1zM436 115h1v1h-1zM438 115h7v1h-7zM447 115h3v1h-3zM453 115h1v1h-1zM58 116h1v1h-1zM61 116h2v1h-2zM64 116h1v1h-1zM67 116h44v1h-44zM160 116h2v1h-2zM166 116h1v1h-1zM334 116h56v1h-56zM392 116h1v1h-1zM415 116h5v1h-5zM428 116h1v1h-1zM433 116h12v1h-12zM448 116h2v1h-2zM57 117h1v1h-1zM60 117h1v1h-1zM63 117h47v1h-47zM166 117h1v1h-1zM333 117h56v1h-56zM417 117h2v1h-2zM429 117h2v1h-2zM433 117h5v1h-5zM441 117h4v1h-4zM446 117h4v1h-4zM54 118h1v1h-1zM57 118h1v1h-1zM59 118h6v1h-6zM66 118h46v1h-46zM127 118h2v1h-2zM333 118h56v1h-56zM421 118h2v1h-2zM429 118h4v1h-4zM434 118h4v1h-4zM441 118h7v1h-7zM54 119h1v1h-1zM56 119h1v1h-1zM58 119h4v1h-4zM63 119h47v1h-47zM333 119h55v1h-55zM389 119h1v1h-1zM413 119h1v1h-1zM416 119h3v1h-3zM421 119h2v1h-2zM428 119h1v1h-1zM430 119h3v1h-3zM434 119h4v1h-4zM439 119h4v1h-4zM446 119h2v1h-2zM459 119h2v1h-2zM51 120h1v1h-1zM54 120h2v1h-2zM57 120h1v1h-1zM59 120h1v1h-1zM61 120h50v1h-50zM176 120h2v1h-2zM333 120h55v1h-55zM390 120h1v1h-1zM413 120h1v1h-1zM416 120h3v1h-3zM425 120h1v1h-1zM428 120h6v1h-6zM435 120h3v1h-3zM439 120h4v1h-4zM446 120h1v1h-1zM449 120h2v1h-2zM55 121h1v1h-1zM57 121h54v1h-54zM143 121h2v1h-2zM176 121h2v1h-2zM333 121h55v1h-55zM422 121h3v1h-3zM429 121h5v1h-5zM435 121h2v1h-2zM439 121h4v1h-4zM445 121h1v1h-1zM450 121h1v1h-1zM456 121h2v1h-2zM459 121h1v1h-1zM55 122h1v1h-1zM57 122h50v1h-50zM110 122h2v1h-2zM143 122h2v1h-2zM333 122h56v1h-56zM423 122h2v1h-2zM429 122h1v1h-1zM436 122h3v1h-3zM440 122h5v1h-5zM456 122h2v1h-2zM459 122h1v1h-1zM52 123h1v1h-1zM54 123h1v1h-1zM56 123h54v1h-54zM333 123h52v1h-52zM386 123h1v1h-1zM388 123h1v1h-1zM423 123h1v1h-1zM427 123h3v1h-3zM431 123h4v1h-4zM436 123h3v1h-3zM440 123h5v1h-5zM450 123h4v1h-4zM52 124h2v1h-2zM55 124h55v1h-55zM333 124h54v1h-54zM388 124h2v1h-2zM423 124h1v1h-1zM427 124h2v1h-2zM431 124h4v1h-4zM437 124h2v1h-2zM442 124h1v1h-1zM444 124h1v1h-1zM449 124h3v1h-3zM459 124h1v1h-1zM52 125h1v1h-1zM54 125h56v1h-56zM333 125h53v1h-53zM430 125h3v1h-3zM434 125h1v1h-1zM437 125h2v1h-2zM440 125h2v1h-2zM449 125h1v1h-1zM451 125h1v1h-1zM459 125h1v1h-1zM51 126h59v1h-59zM165 126h1v1h-1zM176 126h2v1h-2zM333 126h52v1h-52zM386 126h3v1h-3zM411 126h1v1h-1zM426 126h4v1h-4zM432 126h3v1h-3zM436 126h6v1h-6zM443 126h2v1h-2zM451 126h1v1h-1zM458 126h1v1h-1zM51 127h56v1h-56zM165 127h1v1h-1zM168 127h2v1h-2zM176 127h2v1h-2zM333 127h52v1h-52zM388 127h1v1h-1zM411 127h1v1h-1zM423 127h5v1h-5zM429 127h2v1h-2zM432 127h1v1h-1zM435 127h1v1h-1zM437 127h8v1h-8zM451 127h1v1h-1zM456 127h3v1h-3zM51 128h58v1h-58zM333 128h54v1h-54zM409 128h2v1h-2zM423 128h3v1h-3zM429 128h2v1h-2zM435 128h3v1h-3zM440 128h5v1h-5zM451 128h1v1h-1zM456 128h2v1h-2zM463 128h2v1h-2zM51 129h56v1h-56zM333 129h50v1h-50zM384 129h3v1h-3zM407 129h1v1h-1zM409 129h2v1h-2zM423 129h3v1h-3zM431 129h3v1h-3zM436 129h2v1h-2zM440 129h6v1h-6zM51 130h57v1h-57zM145 130h2v1h-2zM167 130h2v1h-2zM333 130h51v1h-51zM385 130h1v1h-1zM415 130h2v1h-2zM423 130h3v1h-3zM431 130h1v1h-1zM435 130h2v1h-2zM439 130h9v1h-9zM450 130h2v1h-2zM455 130h2v1h-2zM51 131h56v1h-56zM108 131h1v1h-1zM145 131h2v1h-2zM167 131h2v1h-2zM172 131h2v1h-2zM187 131h2v1h-2zM333 131h49v1h-49zM383 131h1v1h-1zM386 131h1v1h-1zM417 131h2v1h-2zM423 131h3v1h-3zM431 131h2v1h-2zM435 131h5v1h-5zM444 131h4v1h-4zM450 131h2v1h-2zM51 132h56v1h-56zM108 132h1v1h-1zM159 132h2v1h-2zM172 132h2v1h-2zM187 132h2v1h-2zM333 132h49v1h-49zM383 132h2v1h-2zM417 132h2v1h-2zM425 132h1v1h-1zM432 132h1v1h-1zM437 132h2v1h-2zM440 132h2v1h-2zM460 132h2v1h-2zM51 133h55v1h-55zM159 133h2v1h-2zM178 133h2v1h-2zM333 133h48v1h-48zM382 133h1v1h-1zM385 133h1v1h-1zM410 133h2v1h-2zM418 133h1v1h-1zM420 133h2v1h-2zM424 133h1v1h-1zM429 133h5v1h-5zM435 133h1v1h-1zM438 133h1v1h-1zM440 133h2v1h-2zM445 133h1v1h-1zM51 134h55v1h-55zM153 134h2v1h-2zM162 134h2v1h-2zM178 134h2v1h-2zM333 134h50v1h-50zM385 134h1v1h-1zM404 134h1v1h-1zM410 134h2v1h-2zM418 134h4v1h-4zM424 134h2v1h-2zM429 134h2v1h-2zM432 134h4v1h-4zM437 134h2v1h-2zM445 134h1v1h-1zM454 134h1v1h-1zM51 135h52v1h-52zM105 135h2v1h-2zM153 135h2v1h-2zM162 135h2v1h-2zM333 135h47v1h-47zM410 135h2v1h-2zM419 135h1v1h-1zM424 135h2v1h-2zM428 135h3v1h-3zM432 135h4v1h-4zM437 135h2v1h-2zM440 135h1v1h-1zM446 135h1v1h-1zM448 135h2v1h-2zM454 135h1v1h-1zM51 136h54v1h-54zM106 136h1v1h-1zM333 136h50v1h-50zM426 136h11v1h-11zM438 136h2v1h-2zM446 136h1v1h-1zM51 137h55v1h-55zM333 137h44v1h-44zM378 137h2v1h-2zM382 137h1v1h-1zM426 137h3v1h-3zM431 137h2v1h-2zM435 137h5v1h-5zM441 137h1v1h-1zM51 138h53v1h-53zM163 138h1v1h-1zM166 138h2v1h-2zM169 138h2v1h-2zM333 138h42v1h-42zM376 138h6v1h-6zM435 138h3v1h-3zM441 138h1v1h-1zM457 138h2v1h-2zM51 139h51v1h-51zM103 139h1v1h-1zM163 139h1v1h-1zM166 139h2v1h-2zM169 139h2v1h-2zM333 139h45v1h-45zM423 139h2v1h-2zM427 139h2v1h-2zM430 139h2v1h-2zM433 139h1v1h-1zM436 139h1v1h-1zM444 139h2v1h-2zM51 140h55v1h-55zM107 140h1v1h-1zM152 140h2v1h-2zM176 140h2v1h-2zM333 140h46v1h-46zM380 140h1v1h-1zM427 140h2v1h-2zM431 140h2v1h-2zM444 140h2v1h-2zM51 141h52v1h-52zM166 141h2v1h-2zM176 141h2v1h-2zM183 141h2v1h-2zM333 141h46v1h-46zM380 141h1v1h-1zM413 141h1v1h-1zM422 141h4v1h-4zM429 141h4v1h-4zM434 141h2v1h-2zM445 141h2v1h-2zM51 142h50v1h-50zM102 142h1v1h-1zM104 142h2v1h-2zM166 142h2v1h-2zM333 142h45v1h-45zM381 142h1v1h-1zM413 142h2v1h-2zM422 142h4v1h-4zM432 142h4v1h-4zM51 143h49v1h-49zM101 143h2v1h-2zM105 143h1v1h-1zM151 143h2v1h-2zM162 143h2v1h-2zM169 143h2v1h-2zM333 143h44v1h-44zM444 143h2v1h-2zM450 143h1v1h-1zM51 144h49v1h-49zM101 144h3v1h-3zM106 144h1v1h-1zM151 144h2v1h-2zM162 144h2v1h-2zM169 144h2v1h-2zM175 144h2v1h-2zM333 144h45v1h-45zM418 144h2v1h-2zM431 144h1v1h-1zM438 144h2v1h-2zM444 144h2v1h-2zM51 145h52v1h-52zM156 145h2v1h-2zM175 145h2v1h-2zM333 145h43v1h-43zM377 145h2v1h-2zM380 145h1v1h-1zM418 145h2v1h-2zM431 145h1v1h-1zM438 145h2v1h-2zM450 145h2v1h-2zM51 146h52v1h-52zM105 146h1v1h-1zM333 146h41v1h-41zM375 146h1v1h-1zM439 146h2v1h-2zM51 147h49v1h-49zM102 147h1v1h-1zM161 147h2v1h-2zM178 147h2v1h-2zM333 147h43v1h-43zM378 147h1v1h-1zM380 147h1v1h-1zM439 147h2v1h-2zM448 147h2v1h-2zM51 148h46v1h-46zM98 148h2v1h-2zM102 148h1v1h-1zM104 148h3v1h-3zM161 148h2v1h-2zM178 148h2v1h-2zM333 148h1v1h-1zM335 148h41v1h-41zM377 148h1v1h-1zM414 148h2v1h-2zM424 148h2v1h-2zM429 148h2v1h-2zM432 148h2v1h-2zM51 149h49v1h-49zM102 149h1v1h-1zM141 149h2v1h-2zM146 149h2v1h-2zM333 149h42v1h-42zM377 149h1v1h-1zM414 149h3v1h-3zM424 149h2v1h-2zM429 149h2v1h-2zM433 149h2v1h-2zM51 150h47v1h-47zM104 150h2v1h-2zM146 150h2v1h-2zM333 150h43v1h-43zM377 150h2v1h-2zM416 150h1v1h-1zM51 151h46v1h-46zM98 151h1v1h-1zM100 151h1v1h-1zM102 151h1v1h-1zM104 151h1v1h-1zM106 151h1v1h-1zM156 151h2v1h-2zM333 151h43v1h-43zM378 151h2v1h-2zM419 151h2v1h-2zM432 151h1v1h-1zM437 151h2v1h-2zM51 152h46v1h-46zM99 152h1v1h-1zM101 152h1v1h-1zM156 152h2v1h-2zM333 152h41v1h-41zM375 152h2v1h-2zM419 152h2v1h-2zM437 152h2v1h-2zM447 152h2v1h-2zM51 153h48v1h-48zM100 153h2v1h-2zM174 153h2v1h-2zM333 153h39v1h-39zM373 153h1v1h-1zM375 153h1v1h-1zM377 153h1v1h-1zM435 153h1v1h-1zM51 154h47v1h-47zM100 154h1v1h-1zM102 154h1v1h-1zM156 154h2v1h-2zM169 154h1v1h-1zM174 154h3v1h-3zM333 154h41v1h-41zM375 154h1v1h-1zM377 154h1v1h-1zM418 154h2v1h-2zM435 154h1v1h-1zM438 154h2v1h-2zM51 155h47v1h-47zM156 155h2v1h-2zM169 155h1v1h-1zM175 155h2v1h-2zM333 155h1v1h-1zM335 155h39v1h-39zM375 155h1v1h-1zM377 155h1v1h-1zM418 155h2v1h-2zM438 155h2v1h-2zM51 156h47v1h-47zM99 156h1v1h-1zM101 156h1v1h-1zM333 156h41v1h-41zM375 156h2v1h-2zM51 157h34v1h-34zM86 157h2v1h-2zM89 157h11v1h-11zM333 157h40v1h-40zM376 157h1v1h-1zM131 239h2v1h-2zM142 255h1v1h-1zM142 256h1v1h-1zM147 256h2v1h-2zM170 257h2v1h-2zM170 258h2v1h-2zM134 259h2v1h-2zM134 260h2v1h-2zM141 262h1v1h-1zM141 263h1v1h-1zM134 264h2v1h-2zM133 265h3v1h-3zM133 266h2v1h-2zM156 266h2v1h-2zM145 267h2v1h-2zM156 267h2v1h-2zM138 268h2v1h-2zM145 268h4v1h-4zM138 269h2v1h-2zM147 269h2v1h-2zM133 271h2v1h-2zM146 271h2v1h-2zM133 272h2v1h-2zM146 272h2v1h-2zM137 273h1v1h-1zM131 274h2v1h-2zM137 274h1v1h-1zM141 274h2v1h-2zM149 274h2v1h-2zM131 275h2v1h-2zM141 275h2v1h-2zM149 275h2v1h-2zM125 276h2v1h-2zM125 277h2v1h-2zM138 277h2v1h-2zM147 277h2v1h-2zM134 278h2v1h-2zM138 278h2v1h-2zM144 278h1v1h-1zM147 278h2v1h-2zM158 278h2v1h-2zM134 279h2v1h-2zM141 279h2v1h-2zM144 279h1v1h-1zM158 279h2v1h-2zM468 279h2v1h-2zM141 280h2v1h-2zM147 282h2v1h-2zM131 283h2v1h-2zM134 283h2v1h-2zM138 283h2v1h-2zM143 283h2v1h-2zM455 283h2v1h-2zM471 283h2v1h-2zM131 284h2v1h-2zM134 284h2v1h-2zM139 284h2v1h-2zM143 284h2v1h-2zM455 284h2v1h-2zM471 284h2v1h-2zM139 285h2v1h-2zM145 286h2v1h-2zM127 287h2v1h-2zM138 287h1v1h-1zM145 287h2v1h-2zM167 287h2v1h-2zM127 288h2v1h-2zM134 288h2v1h-2zM138 288h1v1h-1zM155 288h2v1h-2zM167 288h2v1h-2zM403 288h2v1h-2zM134 289h2v1h-2zM155 289h2v1h-2zM403 289h2v1h-2zM134 290h2v1h-2zM142 290h1v1h-1zM474 290h2v1h-2zM134 291h2v1h-2zM142 291h1v1h-1zM474 291h2v1h-2zM97 292h2v1h-2zM101 292h1v1h-1zM456 292h2v1h-2zM97 293h2v1h-2zM101 293h1v1h-1zM121 293h1v1h-1zM390 293h1v1h-1zM121 294h1v1h-1zM138 294h2v1h-2zM146 294h2v1h-2zM390 294h1v1h-1zM455 294h1v1h-1zM103 295h2v1h-2zM109 295h2v1h-2zM138 295h2v1h-2zM146 295h2v1h-2zM455 295h1v1h-1zM103 296h2v1h-2zM109 296h2v1h-2zM112 296h2v1h-2zM137 296h2v1h-2zM164 296h2v1h-2zM84 297h2v1h-2zM112 297h2v1h-2zM137 297h2v1h-2zM164 297h2v1h-2zM168 297h2v1h-2zM173 297h2v1h-2zM144 298h1v1h-1zM168 298h2v1h-2zM144 299h1v1h-1zM389 299h1v1h-1zM397 299h1v1h-1zM442 299h1v1h-1zM382 300h1v1h-1zM384 300h2v1h-2zM387 300h2v1h-2zM390 300h3v1h-3zM396 300h1v1h-1zM439 300h5v1h-5zM448 300h1v1h-1zM453 300h2v1h-2zM372 301h1v1h-1zM375 301h1v1h-1zM377 301h1v1h-1zM379 301h19v1h-19zM440 301h2v1h-2zM443 301h1v1h-1zM445 301h2v1h-2zM448 301h1v1h-1zM452 301h1v1h-1zM158 302h2v1h-2zM368 302h1v1h-1zM370 302h6v1h-6zM377 302h12v1h-12zM390 302h4v1h-4zM396 302h1v1h-1zM433 302h1v1h-1zM437 302h5v1h-5zM446 302h1v1h-1zM451 302h2v1h-2zM86 303h1v1h-1zM89 303h3v1h-3zM93 303h1v1h-1zM95 303h1v1h-1zM98 303h4v1h-4zM103 303h4v1h-4zM110 303h1v1h-1zM153 303h3v1h-3zM158 303h2v1h-2zM163 303h2v1h-2zM364 303h1v1h-1zM370 303h25v1h-25zM433 303h1v1h-1zM437 303h4v1h-4zM443 303h1v1h-1zM446 303h1v1h-1zM448 303h1v1h-1zM86 304h1v1h-1zM89 304h19v1h-19zM154 304h2v1h-2zM157 304h1v1h-1zM166 304h1v1h-1zM179 304h2v1h-2zM368 304h1v1h-1zM370 304h26v1h-26zM414 304h2v1h-2zM417 304h2v1h-2zM439 304h1v1h-1zM443 304h2v1h-2zM446 304h2v1h-2zM450 304h1v1h-1zM86 305h10v1h-10zM97 305h11v1h-11zM109 305h1v1h-1zM154 305h2v1h-2zM163 305h2v1h-2zM179 305h2v1h-2zM363 305h1v1h-1zM365 305h29v1h-29zM395 305h1v1h-1zM441 305h4v1h-4zM448 305h3v1h-3zM452 305h1v1h-1zM457 305h1v1h-1zM77 306h1v1h-1zM81 306h1v1h-1zM84 306h24v1h-24zM109 306h2v1h-2zM157 306h2v1h-2zM163 306h2v1h-2zM362 306h1v1h-1zM366 306h28v1h-28zM395 306h1v1h-1zM432 306h2v1h-2zM436 306h2v1h-2zM439 306h6v1h-6zM446 306h1v1h-1zM448 306h3v1h-3zM457 306h1v1h-1zM82 307h26v1h-26zM109 307h1v1h-1zM155 307h1v1h-1zM161 307h2v1h-2zM165 307h1v1h-1zM358 307h1v1h-1zM360 307h2v1h-2zM365 307h29v1h-29zM395 307h1v1h-1zM432 307h2v1h-2zM436 307h2v1h-2zM439 307h2v1h-2zM442 307h1v1h-1zM444 307h1v1h-1zM446 307h5v1h-5zM73 308h4v1h-4zM81 308h27v1h-27zM155 308h2v1h-2zM160 308h2v1h-2zM163 308h1v1h-1zM165 308h1v1h-1zM168 308h1v1h-1zM171 308h1v1h-1zM359 308h1v1h-1zM362 308h1v1h-1zM364 308h30v1h-30zM438 308h5v1h-5zM444 308h1v1h-1zM446 308h5v1h-5zM452 308h2v1h-2zM69 309h1v1h-1zM78 309h31v1h-31zM110 309h1v1h-1zM153 309h1v1h-1zM155 309h3v1h-3zM159 309h3v1h-3zM163 309h1v1h-1zM165 309h3v1h-3zM171 309h2v1h-2zM174 309h1v1h-1zM357 309h2v1h-2zM360 309h31v1h-31zM392 309h2v1h-2zM431 309h2v1h-2zM440 309h3v1h-3zM445 309h9v1h-9zM457 309h1v1h-1zM64 310h1v1h-1zM66 310h1v1h-1zM74 310h4v1h-4zM79 310h28v1h-28zM153 310h2v1h-2zM156 310h2v1h-2zM159 310h1v1h-1zM161 310h1v1h-1zM166 310h2v1h-2zM169 310h2v1h-2zM174 310h1v1h-1zM353 310h3v1h-3zM358 310h35v1h-35zM394 310h1v1h-1zM430 310h2v1h-2zM439 310h9v1h-9zM450 310h3v1h-3zM455 310h2v1h-2zM458 310h2v1h-2zM62 311h1v1h-1zM64 311h1v1h-1zM67 311h1v1h-1zM71 311h1v1h-1zM75 311h2v1h-2zM78 311h31v1h-31zM154 311h1v1h-1zM156 311h2v1h-2zM159 311h1v1h-1zM163 311h2v1h-2zM166 311h2v1h-2zM169 311h2v1h-2zM354 311h6v1h-6zM361 311h32v1h-32zM395 311h1v1h-1zM437 311h11v1h-11zM449 311h1v1h-1zM453 311h1v1h-1zM67 312h2v1h-2zM70 312h1v1h-1zM72 312h2v1h-2zM76 312h33v1h-33zM140 312h1v1h-1zM154 312h4v1h-4zM159 312h1v1h-1zM163 312h10v1h-10zM351 312h1v1h-1zM353 312h38v1h-38zM392 312h2v1h-2zM429 312h2v1h-2zM433 312h2v1h-2zM436 312h2v1h-2zM441 312h2v1h-2zM444 312h6v1h-6zM452 312h1v1h-1zM60 313h1v1h-1zM62 313h1v1h-1zM64 313h4v1h-4zM72 313h35v1h-35zM108 313h1v1h-1zM140 313h1v1h-1zM156 313h4v1h-4zM165 313h6v1h-6zM348 313h4v1h-4zM353 313h40v1h-40zM395 313h1v1h-1zM425 313h1v1h-1zM429 313h3v1h-3zM436 313h3v1h-3zM440 313h12v1h-12zM470 313h2v1h-2zM62 314h2v1h-2zM68 314h36v1h-36zM105 314h2v1h-2zM109 314h2v1h-2zM136 314h1v1h-1zM151 314h2v1h-2zM156 314h3v1h-3zM167 314h2v1h-2zM171 314h2v1h-2zM344 314h1v1h-1zM347 314h45v1h-45zM394 314h1v1h-1zM431 314h2v1h-2zM436 314h4v1h-4zM441 314h3v1h-3zM446 314h1v1h-1zM449 314h3v1h-3zM453 314h2v1h-2zM470 314h2v1h-2zM57 315h1v1h-1zM60 315h3v1h-3zM64 315h1v1h-1zM66 315h40v1h-40zM107 315h1v1h-1zM151 315h3v1h-3zM156 315h5v1h-5zM162 315h2v1h-2zM167 315h2v1h-2zM171 315h2v1h-2zM174 315h3v1h-3zM336 315h1v1h-1zM342 315h1v1h-1zM344 315h2v1h-2zM347 315h43v1h-43zM393 315h1v1h-1zM420 315h1v1h-1zM422 315h1v1h-1zM430 315h3v1h-3zM435 315h3v1h-3zM440 315h2v1h-2zM445 315h2v1h-2zM451 315h2v1h-2zM455 315h2v1h-2zM458 315h1v1h-1zM61 316h45v1h-45zM107 316h1v1h-1zM110 316h1v1h-1zM144 316h2v1h-2zM152 316h2v1h-2zM155 316h2v1h-2zM158 316h4v1h-4zM165 316h1v1h-1zM340 316h2v1h-2zM343 316h49v1h-49zM420 316h1v1h-1zM430 316h2v1h-2zM435 316h4v1h-4zM440 316h7v1h-7zM448 316h1v1h-1zM450 316h4v1h-4zM455 316h1v1h-1zM51 317h1v1h-1zM53 317h1v1h-1zM56 317h1v1h-1zM59 317h46v1h-46zM106 317h3v1h-3zM143 317h3v1h-3zM152 317h1v1h-1zM155 317h2v1h-2zM160 317h2v1h-2zM165 317h3v1h-3zM175 317h1v1h-1zM177 317h2v1h-2zM180 317h1v1h-1zM334 317h5v1h-5zM340 317h49v1h-49zM391 317h1v1h-1zM431 317h1v1h-1zM434 317h4v1h-4zM440 317h7v1h-7zM448 317h2v1h-2zM454 317h2v1h-2zM458 317h1v1h-1zM50 318h1v1h-1zM54 318h4v1h-4zM59 318h48v1h-48zM143 318h2v1h-2zM147 318h2v1h-2zM151 318h1v1h-1zM154 318h3v1h-3zM159 318h2v1h-2zM165 318h4v1h-4zM177 318h2v1h-2zM334 318h2v1h-2zM339 318h2v1h-2zM342 318h45v1h-45zM388 318h2v1h-2zM392 318h1v1h-1zM418 318h2v1h-2zM423 318h3v1h-3zM430 318h2v1h-2zM434 318h7v1h-7zM445 318h6v1h-6zM455 318h1v1h-1zM51 319h1v1h-1zM53 319h1v1h-1zM55 319h50v1h-50zM106 319h1v1h-1zM146 319h3v1h-3zM152 319h5v1h-5zM158 319h1v1h-1zM161 319h1v1h-1zM163 319h3v1h-3zM169 319h1v1h-1zM171 319h2v1h-2zM174 319h1v1h-1zM333 319h1v1h-1zM335 319h2v1h-2zM338 319h52v1h-52zM416 319h4v1h-4zM423 319h4v1h-4zM429 319h2v1h-2zM436 319h4v1h-4zM442 319h2v1h-2zM446 319h2v1h-2zM453 319h3v1h-3zM51 320h1v1h-1zM53 320h1v1h-1zM56 320h49v1h-49zM139 320h3v1h-3zM153 320h2v1h-2zM161 320h4v1h-4zM170 320h2v1h-2zM173 320h3v1h-3zM333 320h1v1h-1zM335 320h55v1h-55zM416 320h2v1h-2zM426 320h1v1h-1zM429 320h2v1h-2zM433 320h1v1h-1zM437 320h3v1h-3zM441 320h3v1h-3zM451 320h3v1h-3zM50 321h1v1h-1zM55 321h50v1h-50zM107 321h1v1h-1zM139 321h1v1h-1zM152 321h4v1h-4zM157 321h1v1h-1zM159 321h1v1h-1zM161 321h5v1h-5zM175 321h1v1h-1zM333 321h56v1h-56zM418 321h2v1h-2zM433 321h3v1h-3zM438 321h4v1h-4zM446 321h2v1h-2zM451 321h2v1h-2zM50 322h54v1h-54zM155 322h1v1h-1zM157 322h2v1h-2zM160 322h1v1h-1zM164 322h3v1h-3zM168 322h3v1h-3zM177 322h2v1h-2zM333 322h55v1h-55zM389 322h2v1h-2zM426 322h1v1h-1zM431 322h2v1h-2zM434 322h2v1h-2zM438 322h1v1h-1zM440 322h12v1h-12zM50 323h56v1h-56zM147 323h2v1h-2zM155 323h1v1h-1zM157 323h2v1h-2zM160 323h1v1h-1zM162 323h1v1h-1zM164 323h1v1h-1zM168 323h2v1h-2zM171 323h2v1h-2zM177 323h2v1h-2zM333 323h57v1h-57zM426 323h1v1h-1zM428 323h5v1h-5zM440 323h6v1h-6zM50 324h50v1h-50zM101 324h2v1h-2zM104 324h1v1h-1zM147 324h2v1h-2zM150 324h2v1h-2zM155 324h1v1h-1zM157 324h2v1h-2zM161 324h4v1h-4zM166 324h4v1h-4zM173 324h2v1h-2zM176 324h2v1h-2zM333 324h56v1h-56zM423 324h1v1h-1zM427 324h4v1h-4zM433 324h2v1h-2zM438 324h1v1h-1zM440 324h5v1h-5zM50 325h54v1h-54zM148 325h4v1h-4zM153 325h5v1h-5zM161 325h7v1h-7zM171 325h4v1h-4zM333 325h54v1h-54zM390 325h1v1h-1zM413 325h2v1h-2zM416 325h1v1h-1zM423 325h1v1h-1zM426 325h5v1h-5zM433 325h2v1h-2zM438 325h6v1h-6zM445 325h1v1h-1zM50 326h50v1h-50zM101 326h3v1h-3zM138 326h1v1h-1zM140 326h2v1h-2zM144 326h2v1h-2zM148 326h2v1h-2zM153 326h3v1h-3zM158 326h8v1h-8zM168 326h1v1h-1zM171 326h3v1h-3zM333 326h54v1h-54zM416 326h1v1h-1zM422 326h3v1h-3zM427 326h4v1h-4zM433 326h2v1h-2zM437 326h2v1h-2zM448 326h2v1h-2zM50 327h53v1h-53zM104 327h1v1h-1zM138 327h1v1h-1zM140 327h2v1h-2zM144 327h2v1h-2zM148 327h1v1h-1zM158 327h8v1h-8zM167 327h1v1h-1zM170 327h1v1h-1zM172 327h1v1h-1zM192 327h1v1h-1zM333 327h54v1h-54zM388 327h1v1h-1zM420 327h5v1h-5zM428 327h6v1h-6zM435 327h1v1h-1zM437 327h4v1h-4zM446 327h1v1h-1zM449 327h1v1h-1zM50 328h51v1h-51zM102 328h1v1h-1zM144 328h2v1h-2zM149 328h1v1h-1zM153 328h4v1h-4zM158 328h2v1h-2zM162 328h8v1h-8zM333 328h54v1h-54zM418 328h7v1h-7zM429 328h2v1h-2zM432 328h2v1h-2zM435 328h1v1h-1zM437 328h4v1h-4zM446 328h1v1h-1zM449 328h5v1h-5zM460 328h1v1h-1zM50 329h53v1h-53zM139 329h1v1h-1zM144 329h3v1h-3zM148 329h3v1h-3zM152 329h4v1h-4zM160 329h2v1h-2zM166 329h1v1h-1zM168 329h2v1h-2zM175 329h2v1h-2zM333 329h52v1h-52zM386 329h1v1h-1zM415 329h3v1h-3zM419 329h6v1h-6zM429 329h2v1h-2zM434 329h6v1h-6zM444 329h2v1h-2zM450 329h4v1h-4zM460 329h1v1h-1zM50 330h51v1h-51zM102 330h1v1h-1zM139 330h1v1h-1zM148 330h8v1h-8zM158 330h2v1h-2zM165 330h1v1h-1zM167 330h1v1h-1zM170 330h2v1h-2zM175 330h2v1h-2zM181 330h1v1h-1zM333 330h51v1h-51zM408 330h2v1h-2zM415 330h2v1h-2zM419 330h5v1h-5zM426 330h7v1h-7zM435 330h2v1h-2zM439 330h1v1h-1zM443 330h3v1h-3zM50 331h50v1h-50zM147 331h2v1h-2zM150 331h3v1h-3zM154 331h2v1h-2zM158 331h2v1h-2zM162 331h5v1h-5zM170 331h2v1h-2zM174 331h2v1h-2zM181 331h1v1h-1zM333 331h50v1h-50zM385 331h1v1h-1zM403 331h1v1h-1zM419 331h7v1h-7zM430 331h4v1h-4zM443 331h2v1h-2zM50 332h50v1h-50zM103 332h1v1h-1zM140 332h1v1h-1zM144 332h2v1h-2zM147 332h4v1h-4zM153 332h4v1h-4zM158 332h2v1h-2zM162 332h5v1h-5zM170 332h2v1h-2zM174 332h3v1h-3zM333 332h49v1h-49zM383 332h1v1h-1zM385 332h1v1h-1zM420 332h1v1h-1zM422 332h4v1h-4zM430 332h7v1h-7zM50 333h49v1h-49zM100 333h1v1h-1zM142 333h4v1h-4zM148 333h3v1h-3zM155 333h2v1h-2zM158 333h3v1h-3zM165 333h2v1h-2zM170 333h2v1h-2zM333 333h50v1h-50zM416 333h2v1h-2zM423 333h2v1h-2zM427 333h1v1h-1zM434 333h4v1h-4zM449 333h1v1h-1zM50 334h49v1h-49zM100 334h3v1h-3zM149 334h2v1h-2zM154 334h3v1h-3zM158 334h5v1h-5zM165 334h2v1h-2zM169 334h4v1h-4zM175 334h2v1h-2zM182 334h2v1h-2zM333 334h49v1h-49zM412 334h2v1h-2zM416 334h2v1h-2zM423 334h6v1h-6zM430 334h1v1h-1zM436 334h2v1h-2zM440 334h2v1h-2zM50 335h47v1h-47zM100 335h1v1h-1zM149 335h2v1h-2zM154 335h2v1h-2zM157 335h3v1h-3zM161 335h1v1h-1zM165 335h1v1h-1zM168 335h2v1h-2zM171 335h2v1h-2zM175 335h2v1h-2zM191 335h2v1h-2zM333 335h46v1h-46zM380 335h2v1h-2zM383 335h1v1h-1zM412 335h2v1h-2zM425 335h1v1h-1zM429 335h2v1h-2zM436 335h1v1h-1zM440 335h2v1h-2zM449 335h2v1h-2zM452 335h1v1h-1zM50 336h50v1h-50zM101 336h1v1h-1zM152 336h3v1h-3zM157 336h3v1h-3zM161 336h2v1h-2zM168 336h2v1h-2zM191 336h2v1h-2zM333 336h48v1h-48zM415 336h7v1h-7zM424 336h2v1h-2zM428 336h3v1h-3zM449 336h2v1h-2zM50 337h48v1h-48zM99 337h3v1h-3zM153 337h2v1h-2zM156 337h3v1h-3zM162 337h1v1h-1zM164 337h2v1h-2zM168 337h1v1h-1zM176 337h2v1h-2zM333 337h49v1h-49zM415 337h7v1h-7zM424 337h3v1h-3zM428 337h1v1h-1zM433 337h2v1h-2zM436 337h2v1h-2zM447 337h2v1h-2zM50 338h50v1h-50zM150 338h3v1h-3zM155 338h4v1h-4zM164 338h2v1h-2zM167 338h2v1h-2zM176 338h2v1h-2zM333 338h48v1h-48zM406 338h2v1h-2zM417 338h1v1h-1zM420 338h1v1h-1zM424 338h2v1h-2zM427 338h2v1h-2zM431 338h4v1h-4zM50 339h46v1h-46zM97 339h2v1h-2zM101 339h1v1h-1zM150 339h1v1h-1zM152 339h1v1h-1zM154 339h5v1h-5zM164 339h2v1h-2zM167 339h2v1h-2zM187 339h2v1h-2zM333 339h47v1h-47zM417 339h2v1h-2zM425 339h1v1h-1zM428 339h1v1h-1zM431 339h3v1h-3zM436 339h3v1h-3zM442 339h1v1h-1zM50 340h47v1h-47zM99 340h1v1h-1zM146 340h2v1h-2zM152 340h1v1h-1zM154 340h2v1h-2zM168 340h1v1h-1zM333 340h47v1h-47zM417 340h2v1h-2zM430 340h1v1h-1zM433 340h2v1h-2zM442 340h1v1h-1zM50 341h48v1h-48zM99 341h1v1h-1zM157 341h3v1h-3zM168 341h1v1h-1zM173 341h3v1h-3zM333 341h46v1h-46zM411 341h2v1h-2zM416 341h2v1h-2zM428 341h1v1h-1zM430 341h2v1h-2zM435 341h1v1h-1zM437 341h2v1h-2zM50 342h51v1h-51zM158 342h2v1h-2zM164 342h1v1h-1zM167 342h1v1h-1zM173 342h3v1h-3zM333 342h47v1h-47zM414 342h4v1h-4zM420 342h1v1h-1zM428 342h1v1h-1zM430 342h2v1h-2zM437 342h2v1h-2zM440 342h1v1h-1zM50 343h46v1h-46zM146 343h1v1h-1zM156 343h2v1h-2zM161 343h2v1h-2zM164 343h1v1h-1zM166 343h1v1h-1zM169 343h2v1h-2zM333 343h46v1h-46zM414 343h4v1h-4zM420 343h1v1h-1zM426 343h2v1h-2zM440 343h1v1h-1zM50 344h47v1h-47zM98 344h1v1h-1zM146 344h1v1h-1zM148 344h1v1h-1zM150 344h1v1h-1zM166 344h1v1h-1zM333 344h47v1h-47zM409 344h1v1h-1zM415 344h3v1h-3zM425 344h2v1h-2zM428 344h1v1h-1zM430 344h4v1h-4zM443 344h2v1h-2zM462 344h2v1h-2zM50 345h47v1h-47zM141 345h2v1h-2zM157 345h1v1h-1zM333 345h47v1h-47zM402 345h2v1h-2zM407 345h1v1h-1zM415 345h1v1h-1zM420 345h2v1h-2zM424 345h1v1h-1zM426 345h3v1h-3zM432 345h2v1h-2zM462 345h2v1h-2zM50 346h45v1h-45zM96 346h2v1h-2zM140 346h3v1h-3zM151 346h1v1h-1zM154 346h4v1h-4zM333 346h44v1h-44zM378 346h2v1h-2zM407 346h1v1h-1zM421 346h3v1h-3zM426 346h2v1h-2zM429 346h1v1h-1zM50 347h44v1h-44zM98 347h1v1h-1zM151 347h1v1h-1zM154 347h3v1h-3zM165 347h2v1h-2zM186 347h2v1h-2zM333 347h45v1h-45zM379 347h2v1h-2zM411 347h1v1h-1zM417 347h2v1h-2zM50 348h46v1h-46zM144 348h2v1h-2zM150 348h5v1h-5zM157 348h2v1h-2zM162 348h2v1h-2zM165 348h2v1h-2zM186 348h2v1h-2zM333 348h45v1h-45zM406 348h1v1h-1zM411 348h1v1h-1zM417 348h4v1h-4zM422 348h3v1h-3zM426 348h2v1h-2zM434 348h2v1h-2zM449 348h1v1h-1zM470 348h2v1h-2zM50 349h44v1h-44zM95 349h1v1h-1zM97 349h1v1h-1zM144 349h2v1h-2zM148 349h7v1h-7zM162 349h2v1h-2zM171 349h2v1h-2zM333 349h44v1h-44zM378 349h1v1h-1zM406 349h2v1h-2zM417 349h2v1h-2zM423 349h2v1h-2zM426 349h4v1h-4zM432 349h4v1h-4zM449 349h1v1h-1zM470 349h2v1h-2zM50 350h45v1h-45zM96 350h2v1h-2zM148 350h2v1h-2zM162 350h2v1h-2zM166 350h1v1h-1zM172 350h2v1h-2zM333 350h44v1h-44zM406 350h2v1h-2zM431 350h1v1h-1zM50 351h44v1h-44zM96 351h1v1h-1zM154 351h2v1h-2zM166 351h1v1h-1zM168 351h2v1h-2zM176 351h1v1h-1zM333 351h45v1h-45zM380 351h1v1h-1zM410 351h2v1h-2zM431 351h1v1h-1zM448 351h1v1h-1zM50 352h45v1h-45zM158 352h1v1h-1zM168 352h2v1h-2zM176 352h1v1h-1zM333 352h46v1h-46zM410 352h2v1h-2zM417 352h2v1h-2zM423 352h1v1h-1zM448 352h1v1h-1zM50 353h45v1h-45zM333 353h46v1h-46zM417 353h2v1h-2zM423 353h1v1h-1zM426 353h1v1h-1zM50 354h44v1h-44zM426 354h1v1h-1z" fill="#000" shape-rendering="crispEdges"/><line x1="44.5" y1="398.4" x2="236.5" y2="398.4" stroke="#000" stroke-width="2.2"/><line x1="311.3" y1="398.4" x2="497" y2="398.4" stroke="#000" stroke-width="2.2"/><path d="M495.4 391.9L515.8 398.4L495.4 404.6Z" fill="#000"/><g transform="translate(273.3,404.5) scale(1.08,1)"><text x="0" y="0" text-anchor="middle" font-size="17.5" font-weight="bold">CD45</text></g></svg></body></html>
